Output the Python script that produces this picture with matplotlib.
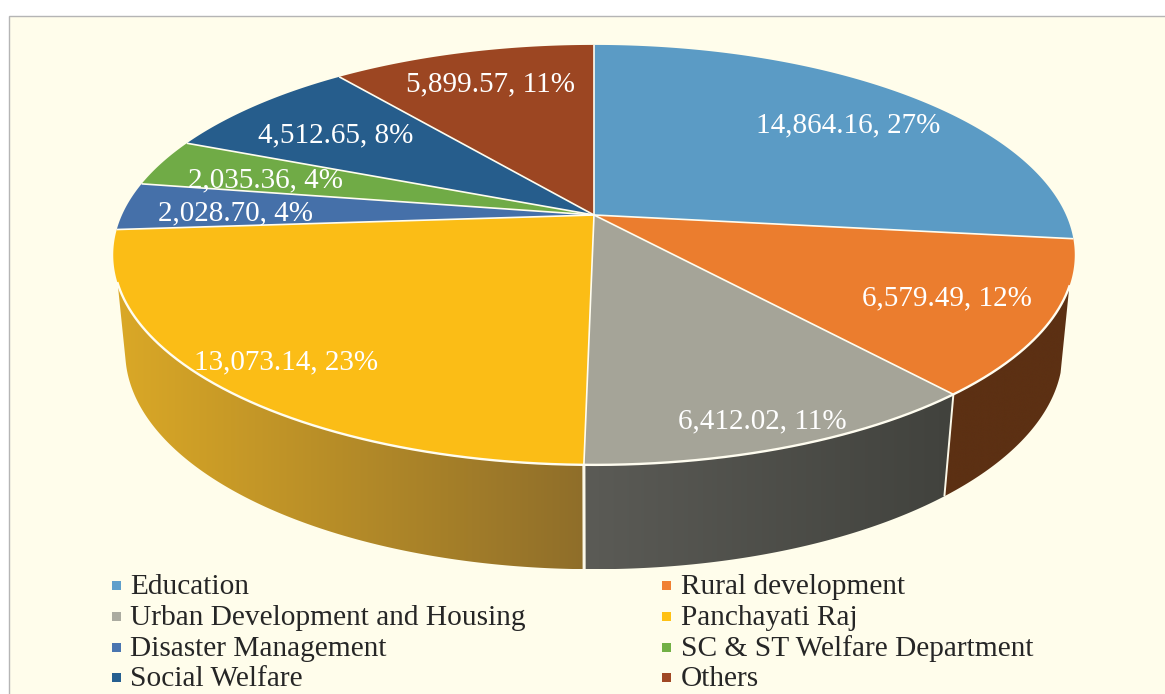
import numpy as np
import matplotlib
matplotlib.use("Agg")
import matplotlib.pyplot as plt
from matplotlib.colors import to_rgb
from matplotlib.patches import Polygon, Rectangle

categories = ["Education", "Rural development", "Urban Development and Housing",
              "Panchayati Raj", "Disaster Management", "SC & ST Welfare Department",
              "Social Welfare", "Others"]
values = [14864.16, 6579.49, 6412.02, 13073.14, 2028.70, 2035.36, 4512.65, 5899.57]
percents = [27, 12, 11, 23, 4, 4, 8, 11]
top_colors = ["#5B9BC5", "#EB7D2E", "#A5A498", "#FBBD16", "#4570A9", "#70AB46", "#265D8C", "#9C4622"]
legend_colors = ["#5F9FCB", "#F08033", "#ABABA0", "#FFC114", "#4A75B0", "#72B045", "#265F90", "#A04824"]
# colours at the left and right end of each visible side wall
wall_gradients = {1: ("#5C3013", "#5C3013"), 2: ("#5B5B56", "#41423D"), 3: ("#DAA826", "#8F6E2A")}
label_xy = [(848, 125), (947, 298), (762, 421), (286, 362), (236, 213), (266, 180), (336, 135), (490, 84)]

W, H = 1165, 694
plt.rcParams["font.family"] = ["Liberation Serif", "DejaVu Serif"]
fig = plt.figure(figsize=(W / 100, H / 100), dpi=100, facecolor="white")
ax = fig.add_axes([0, 0, 1, 1])
ax.set_axis_off()

# page panel
ax.add_patch(Rectangle((9, 15.5), W, H, fc="#FFFDEB", ec="#B5B5B5", lw=1.0, zorder=0))

# perspective projection of the pie's circle
CX, CY, R, B, K = 594.0, 215.0, 472.0, 202.4, 0.19


def rim(theta):
    u, v = np.sin(theta), np.cos(theta)
    d = 1 + K * v
    return CX + R * u / d, CY - B * v / d


def lower(x, y):
    return CX + (x - CX) * 0.975, y + 97 + (y - 255) * 0.035


fractions = np.array(values) / np.sum(values)
edges = 2 * np.pi * np.concatenate([[0], np.cumsum(fractions)])


def arc(a, b, n=200):
    return np.linspace(a, b, n)


def limit(y_right, y_left):
    dense = arc(0, 2 * np.pi, 4000)
    _, ry = rim(dense)
    return dense[(dense < np.pi) & (ry >= y_right)][0], dense[(dense > np.pi) & (ry >= y_left)][-1]


# where the wall's top edge and bottom edge begin and end
top_start, top_end = limit(286, 283)
low_start, low_end = limit(275, 265)

for i, (c0, c1) in wall_gradients.items():
    tx, ty = rim(arc(max(edges[i], top_start), min(edges[i + 1], top_end)))
    bx, by = lower(*rim(arc(max(edges[i], low_start), min(edges[i + 1], low_end))))
    poly = np.column_stack([np.r_[tx, bx[::-1]], np.r_[ty, by[::-1]]])
    patch = Polygon(poly, closed=True, fc="none", ec="none", zorder=1)
    ax.add_patch(patch)
    x0, x1 = poly[:, 0].min(), poly[:, 0].max()
    y0, y1 = poly[:, 1].min(), poly[:, 1].max()
    t = np.linspace(0, 1, 256)[None, :, None]
    grad = np.array(to_rgb(c0))[None, None, :] * (1 - t) + np.array(to_rgb(c1))[None, None, :] * t
    im = ax.imshow(grad, extent=(x0, x1, y1, y0), aspect="auto", zorder=1, interpolation="bilinear")
    im.set_clip_path(patch)

# divider lines on the wall
for i, lw in ((2, 1.4), (3, 2.2)):
    x, y = rim(edges[i])
    lx, ly = lower(x, y)
    ax.plot([x, lx], [y, ly], color="#FBF8E8", lw=lw, zorder=2, solid_capstyle="butt")

# top surface
for i, col in enumerate(top_colors):
    x, y = rim(arc(edges[i], edges[i + 1]))
    pts = np.column_stack([np.r_[CX, x], np.r_[CY, y]])
    ax.add_patch(Polygon(pts, closed=True, fc=col, ec="none", zorder=3))
for i in range(len(top_colors)):
    x, y = rim(edges[i])
    ax.plot([CX, x], [CY, y], color="#FFFDF0", lw=1.2, zorder=4, solid_capstyle="butt")
# bright rim above the wall
x, y = rim(arc(top_start, top_end, 600))
ax.plot(x, y, color="#FFFDF0", lw=1.7, zorder=4)

# data labels
for (lx, ly), v, p in zip(label_xy, values, percents):
    ax.text(lx, ly, f"{v:,.2f}, {p}%", color="white", fontsize=21, ha="center", va="center", zorder=5)

# legend
legend_x = [111.5, 662]
legend_text_x = [130, 681]
legend_y = [585, 616, 647, 677]
legend_base = [594.5, 625, 656, 686.5]
for i, (name, col) in enumerate(zip(categories, legend_colors)):
    ax.add_patch(Rectangle((legend_x[i % 2], legend_y[i // 2] - 4.5), 9, 9, fc=col, ec="none", zorder=5))
    ax.text(legend_text_x[i % 2], legend_base[i // 2], name, color="#262626", fontsize=21.2,
            ha="left", va="baseline", zorder=5)

ax.set_xlim(0, W)
ax.set_ylim(H, 0)
fig.savefig("out.png", dpi=100, facecolor="white")
